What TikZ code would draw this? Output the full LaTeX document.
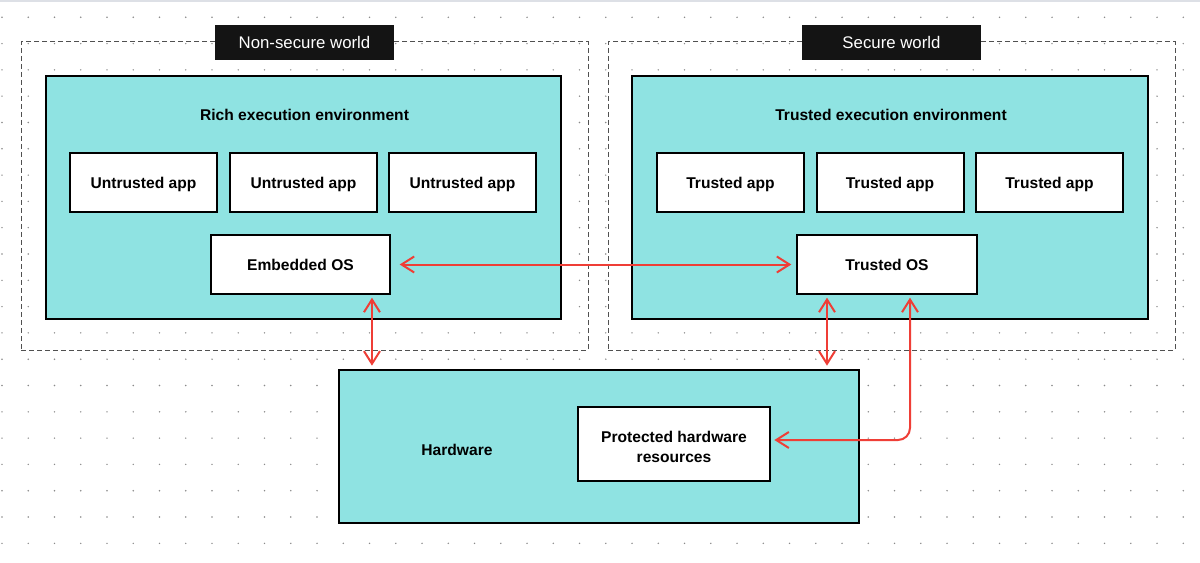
\documentclass[tikz,border=0pt]{standalone}
\usepackage{fontspec}
\setmainfont{Liberation Sans}
\usetikzlibrary{arrows.meta}
\definecolor{tealfill}{HTML}{8FE3E2}
\definecolor{arrowred}{HTML}{EF3E36}
\definecolor{dashgray}{HTML}{505050}
\definecolor{dotgray}{HTML}{8A8A8A}
\definecolor{topline}{HTML}{DDE0E6}
\tikzset{
  env/.style={draw=black, line width=1.5pt, fill=tealfill, inner sep=0pt},
  whitebox/.style={draw=black, line width=1.5pt, fill=white, inner sep=2pt, align=center,
    font=\fontsize{11.7}{15}\selectfont\bfseries},
  onerow/.style={text height=8.4pt, text depth=0pt},
  world/.style={draw=dashgray, line width=0.75pt, dash pattern=on 3.75pt off 2.25pt, inner sep=0pt},
  worldlabel/.style={fill=black!92, text=white, inner sep=0pt, minimum width=134.25pt,
    minimum height=26.25pt, text height=9pt, text depth=0pt, font=\fontsize{12.6}{15}\selectfont},
  title/.style={font=\fontsize{11.7}{15}\selectfont\bfseries, inner sep=0pt},
  link/.style={draw=arrowred, line width=1.5pt, {Straight Barb[length=9.5pt,width=12pt]}-{Straight Barb[length=9.5pt,width=12pt]}}
}
\begin{document}
\begin{tikzpicture}[x=0.75pt,y=-0.75pt]
\useasboundingbox (0,0) rectangle (1200,563);
\fill[white] (0,0) rectangle (1200,563);
\draw[topline, line width=1.5pt] (0,0.8) -- (1200,0.8);
% dot grid
\foreach \i in {0,...,45} {
  \foreach \j in {0,...,20} {
    \fill[dotgray] ({2+26.25*\i},{17.3+26.3*\j}) circle (0.6pt);
  }
}
% worlds
\node[world, minimum width=425.25pt, minimum height=231pt] (nsw) at (304.5,196) {};
\node[world, minimum width=425.25pt, minimum height=231pt] (sw) at (891.5,196) {};
\node[worldlabel] (nswl) at (304.5,42.5) {Non-secure world};
\node[worldlabel] (swl) at (891.5,42.5) {Secure world};
% environments
\node[env, minimum width=386.25pt, minimum height=182.25pt] (ree) at (303.5,197.5) {};
\node[env, minimum width=387pt, minimum height=182.25pt] (tee) at (890,197.5) {};
\node[title] (reet) at (304.5,115) {Rich execution environment};
\node[title] (teet) at (891,115) {Trusted execution environment};
% apps
\foreach \n/\x/\t in {ua1/143.5/Untrusted app, ua2/303.5/Untrusted app, ua3/462.5/Untrusted app,
                      ta1/730.5/Trusted app, ta2/890/Trusted app, ta3/1049.5/Trusted app} {
  \node[whitebox, onerow, minimum width=110.25pt, minimum height=44.25pt] (\n) at (\x,182.5) {\t};
}
\node[whitebox, onerow, minimum width=134.25pt, minimum height=44.25pt] (eos) at (300.5,264.5) {Embedded OS};
\node[whitebox, onerow, minimum width=135pt, minimum height=44.25pt] (tos) at (887,264.5) {Trusted OS};
% hardware
\node[env, minimum width=390pt, minimum height=114.75pt] (hw) at (599,446.5) {};
\node[title] (hwt) at (457,450) {Hardware};
\node[whitebox, minimum width=144pt, minimum height=55.5pt,
  label={[title, align=center, yshift=-2.25pt]center:Protected hardware\\[0.6pt]resources}] (phr) at (674,444) {};
% connectors
\draw[link, shorten <=6.5pt, shorten >=3.5pt] (eos.east) -- (tos.west);
\coordinate (l1) at ([xshift=53.6pt]eos.south);
\coordinate (l2) at (l1 |- hw.north);
\draw[link, shorten <=2pt, shorten >=2.5pt] (l1) -- (l2);
\coordinate (r1) at ([xshift=-45pt]tos.south);
\coordinate (r2) at (r1 |- hw.north);
\draw[link, shorten <=2pt, shorten >=2.5pt] (r1) -- (r2);
\coordinate (e1) at ([xshift=17.25pt]tos.south);
\draw[link, rounded corners=9pt, shorten <=2pt, shorten >=2.5pt] (e1) |- ([yshift=3pt]phr.east);
\end{tikzpicture}
\end{document}
